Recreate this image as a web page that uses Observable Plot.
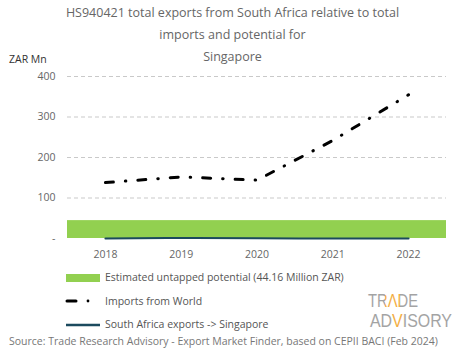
<!DOCTYPE html>
<html><head><meta charset="utf-8">
<script src="https://cdn.jsdelivr.net/npm/d3@7"></script>
<script src="https://cdn.jsdelivr.net/npm/@observablehq/plot@0.6"></script>
<style>
body{margin:0;background:#fff;font-family:"Open Sans",sans-serif;}
#wrap{position:relative;width:465px;height:359px;overflow:hidden;}
.t{position:absolute;left:0;width:465px;text-align:center;font-size:12.5px;color:#666;}
#unit{position:absolute;left:9px;top:52px;font-size:10.5px;color:#333;}
#chart{position:absolute;left:0;top:62px;}
.lg{position:absolute;left:105px;font-size:10.5px;color:#555;white-space:nowrap;}
#src{position:absolute;left:9px;top:334px;font-size:10.5px;color:#777;white-space:nowrap;}
</style></head>
<body><div id="wrap">
<div class="t" style="top:4px">HS940421 total exports from South Africa relative to total</div>
<div class="t" style="top:26px">imports and potential for</div>
<div class="t" style="top:48px">Singapore</div>
<div id="unit">ZAR Mn</div>
<div id="chart"></div>
<svg style="position:absolute;left:0;top:0" width="465" height="359">
<defs>
<linearGradient id="g1" gradientUnits="userSpaceOnUse" x1="368" y1="0" x2="418" y2="0">
<stop offset="0.34" stop-color="#a3a3a3"/><stop offset="0.34" stop-color="#f2ad45"/>
<stop offset="0.64" stop-color="#f2ad45"/><stop offset="0.64" stop-color="#a3a3a3"/>
</linearGradient>
<linearGradient id="g2" gradientUnits="userSpaceOnUse" x1="370" y1="0" x2="452" y2="0">
<stop offset="0.265" stop-color="#a3a3a3"/><stop offset="0.265" stop-color="#f2ad45"/>
<stop offset="0.415" stop-color="#f2ad45"/><stop offset="0.415" stop-color="#a3a3a3"/>
</linearGradient>
</defs>
<rect x="66" y="274" width="34" height="8" fill="#92d050"/>
<line x1="67" y1="301" x2="76" y2="301" stroke="#000" stroke-width="3" stroke-linecap="round"/>
<circle cx="88" cy="301" r="1.4" fill="#000"/>
<line x1="66" y1="325" x2="100" y2="325" stroke="#1b4a5e" stroke-width="2.5"/>
<g font-family="Liberation Sans, sans-serif" font-size="17.8">
<text x="368" y="306.5" textLength="50" lengthAdjust="spacingAndGlyphs" fill="url(#g1)">TRΛDE</text>
<text x="370" y="327" textLength="82" lengthAdjust="spacingAndGlyphs" fill="url(#g2)">ADVISORY</text>
</g>
</svg>
<div class="lg" style="top:270px">Estimated untapped potential (44.16 Million ZAR)</div>
<div class="lg" style="top:294px">Imports from World</div>
<div class="lg" style="top:317px">South Africa exports -&gt; Singapore</div>
<div id="src">Source: Trade Research Advisory - Export Market Finder, based on CEPII BACI (Feb 2024)</div>
</div>
<script>
const years = [2018, 2019, 2020, 2021, 2022];
const importsWorld = [138, 152, 144, 242, 355];
const saExports = [0.3, 1.5, 0.6, 0.2, 0.2];
const potential = 44.16;
const yTicks = [0, 100, 200, 300, 400];

const imp = years.map((y, i) => ({year: y, value: importsWorld[i]}));
const sa = years.map((y, i) => ({year: y, value: saExports[i]}));

const chart = Plot.plot({
  width: 465, height: 205,
  marginLeft: 67, marginRight: 19, marginTop: 14, marginBottom: 29,
  style: {fontFamily: "Open Sans, sans-serif", fontSize: "10.5px", color: "#666"},
  x: {domain: [2017.5, 2022.5], ticks: years, tickFormat: d => String(d), tickSize: 0, tickPadding: 12, label: null},
  y: {domain: [0, 400], ticks: yTicks, tickFormat: d => d === 0 ? "-" : String(d), tickSize: 0, tickPadding: 12, label: null},
  marks: [
    Plot.gridY(yTicks.filter(d => d > 0), {stroke: "#bbb", strokeOpacity: 1, strokeDasharray: "4,3", strokeWidth: 0.8}),
    Plot.rectY([{x1: 2017.5, x2: 2022.5, y: potential}], {x1: "x1", x2: "x2", y: "y", fill: "#92d050"}),
    Plot.line(sa, {x: "year", y: "value", stroke: "#1b4a5e", strokeWidth: 2, curve: "monotone-x"}),
    Plot.line(imp, {x: "year", y: "value", stroke: "#000", strokeWidth: 3, strokeDasharray: "8,12,0.5,12", strokeLinecap: "round"})
  ]
});
document.getElementById("chart").appendChild(chart);
</script>
</body></html>
